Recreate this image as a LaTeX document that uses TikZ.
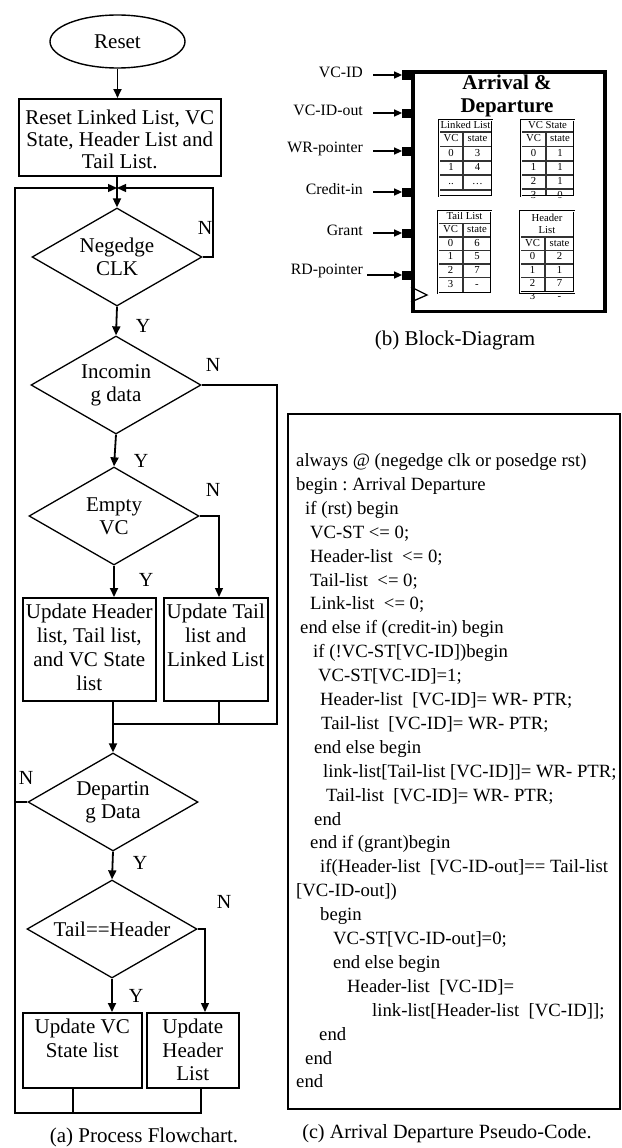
\documentclass[tikz,border=0pt]{standalone}
\usepackage{fontspec}
\setmainfont{Liberation Serif}
\usetikzlibrary{shapes.geometric,arrows.meta,calc}

% text block of a process box: width, height, first-baseline offset, lines
\newcommand{\boxlines}[4]{\parbox[c][#2][t]{#1}{\centering\rule{0pt}{#3}#4}}

\begin{document}
\begin{tikzpicture}[x=1pt,y=-1pt,
  proc/.style={draw, line width=1.5pt, inner sep=0pt, anchor=north west},
  decision/.style={diamond, draw, line width=1.3pt, minimum width=170pt,
    minimum height=98pt, inner sep=0pt, shape aspect=1.7, align=center,
    font=\fontsize{21}{23}\selectfont},
  arr/.style={line width=1.8pt, -{Triangle[length=9pt,width=8pt]}},
  narr/.style={line width=1.3pt, -{Triangle[length=9pt,width=8pt]}},
  wire/.style={line width=1.4pt},
  yn/.style={font=\fontsize{20}{20}\selectfont, inner sep=0pt},
  captxt/.style={font=\fontsize{21}{21}\selectfont, inner sep=0pt},
  porttxt/.style={font=\fontsize{15.8}{16}\selectfont, inner sep=0pt, anchor=east},
  pinsq/.style={fill=black, minimum width=8.5pt, minimum height=9pt, inner sep=0pt, anchor=east},
  inarr/.style={line width=1.6pt, -{Triangle[length=8pt,width=7pt]}},
  tfont/.style={font=\fontsize{10.7}{12}\selectfont, inner sep=0pt},
  tt/.style={tfont, text height=7.2pt, text depth=2.3pt},
  tframe/.style={draw, double, line width=0.6pt, double distance=0.9pt},
  tline/.style={line width=1.1pt, black!80},
]
\useasboundingbox (0,0) rectangle (621,1148);

% ---------------- (a) flowchart ----------------
\node[draw, ellipse, line width=1.4pt, minimum width=135pt, minimum height=53pt,
  inner sep=0pt, font=\fontsize{21}{21}\selectfont] (reset) at (117.5,41.5) {Reset};

\node[proc] (b1) at (18,98) {\fontsize{21}{22}\selectfont
  \boxlines{202pt}{77pt}{26pt}{Reset Linked List, VC\\State, Header List and\\Tail List.}};

\node[decision] (d1) at (117,257) {Negedge\\CLK};
\node[decision] (d2) at (116,385) {Incomin\\g data};
\node[decision] (d3) at (114,516) {Empty\\VC};

\node[proc] (b2) at (22,597) {\fontsize{21}{24.2}\selectfont
  \boxlines{133pt}{103pt}{20.5pt}{Update Header\\list, Tail list,\\and VC State\\list}};
\node[proc] (b3) at (163,597) {\fontsize{21}{24.2}\selectfont
  \boxlines{104pt}{103pt}{20.5pt}{Update Tail\\list and\\Linked List}};

\node[decision] (d4) at (113,802) {Departin\\g Data};
\node[decision] (d5) at (112,929) {Tail==Header};

\node[proc] (b4) at (22,1012) {\fontsize{21}{23.5}\selectfont
  \boxlines{119pt}{75pt}{21pt}{Update VC\\State list}};
\node[proc] (b5) at (146,1012) {\fontsize{21}{23.5}\selectfont
  \boxlines{92pt}{75pt}{21pt}{Update\\Header\\List}};

% junctions of the loop lines
\coordinate (j1) at (117,188);
\coordinate (rt) at (213,188);
\coordinate (lt) at (15,188);
\coordinate (lb) at (15,1113);
\coordinate (j2) at (113,724);
\coordinate (rr) at (277,724);
\coordinate (k3) at (219,724);
\coordinate (k4) at (73,1113);
\coordinate (k5) at (201,1113);
\coordinate (n5) at (205,1012);

\draw[arr] (reset.south) -- (reset.south |- b1.north);
\draw[arr] (b1.south -| j1) -- (d1.north);
\draw[narr] (d1.east) -| (rt) -- (j1);
\draw[arr] (d1.south) -- (d2.north);
\draw[wire] (d2.east) -| (rr) -- (j2);
\draw[arr] (d2.south) -- (d3.north);
\draw[arr] (d3.south) -- (d3.south |- b2.north);
\draw[narr] (d3.east) -| (k3 |- b3.north);
\draw[arr] (j2 |- b2.south) -- (d4.north);
\draw[wire] (k3 |- b3.south) -- (k3);
\draw[wire] (d4.west) -- (d4.west -| lt);
\draw[arr] (d4.south) -- (d5.north);
\draw[arr] (d5.south) -- (d5.south |- b4.north);
\draw[narr] (d5.east) -| (n5);
\draw[wire] (k4 |- b4.south) -- (k4);
\draw[wire, -{Triangle[length=9pt,width=8pt]}] (k5 |- b5.south) -- (k5) -- (lb) -- (lt) -- (j1);

\node[yn] (n1) at (205,228) {N};
\node[yn] (y1) at (143,326) {Y};
\node[yn] (n2) at (213,365) {N};
\node[yn] (y2) at (141,461) {Y};
\node[yn] (n3) at (213,490) {N};
\node[yn] (y3) at (146,580) {Y};
\node[yn] (n4) at (26,778) {N};
\node[yn] (y4) at (140,863) {Y};
\node[yn] (n6) at (224,902) {N};
\node[yn] (y5) at (136,996) {Y};

\node[captxt] (capa) at (144,1137) {(a) Process Flowchart.};

% ---------------- (b) block diagram ----------------
\node[draw, line width=3.5pt, minimum width=192pt, minimum height=239.5pt,
  inner sep=0pt, anchor=north west] (blk) at (411,70) {};
\node[font=\bfseries\fontsize{21}{23.5}\selectfont, align=center, inner sep=0pt]
  (ttl) at (507,96) {Arrival \&\\Departure};

\node[porttxt] (l1) at (363,72) {VC-ID};
\node[porttxt] (l2) at (363,110) {VC-ID-out};
\node[porttxt] (l3) at (363,149) {WR-pointer};
\node[porttxt] (l4) at (363,189) {Credit-in};
\node[porttxt] (l5) at (363,230) {Grant};
\node[porttxt] (l6) at (363,271) {RD-pointer};

\node[pinsq] (p1) at (411,75) {};
\node[pinsq] (p2) at (411,113) {};
\node[pinsq] (p3) at (411,151) {};
\node[pinsq] (p4) at (411,192) {};
\node[pinsq] (p5) at (411,233) {};
\node[pinsq] (p6) at (411,275) {};

\coordinate (s1) at (373,75);
\coordinate (s2) at (373,113);
\coordinate (s3) at (373,151);
\coordinate (s4) at (373,192);
\coordinate (s5) at (373,233);
\coordinate (s6) at (367,275);
\foreach \i in {1,...,6} {\draw[inarr] (s\i) -- (p\i.west);}

% clock input
\draw[line width=1.3pt] (411,287) -- (427,295) -- (411,302);

% Linked List table
\node[tt] (llt) at (465.5,126) {Linked List};
\node[tt] (llh1) at (451,139.5) {VC};
\node[tt] (llh2) at (477.5,139.5) {state};
\node[tt] (lla1) at (451,153.75) {0};
\node[tt] (llb1) at (477.5,153.75) {3};
\node[tt] (lla2) at (451,168) {1};
\node[tt] (llb2) at (477.5,168) {4};
\node[tt] (lla3) at (451,182.5) {..};
\node[tt] (llb3) at (477.5,182.5) {\dots};
\foreach \y in {132,146.5,161,175,190} {\draw[tline] (439,\y) -- (492,\y);}
\draw[tline] (463,132) -- (463,190);
\draw[tframe] (439,120) rectangle (492,196);

% VC State table
\node[tt] (vst) at (547.5,126) {VC State};
\node[tt] (vsh1) at (533.5,139.5) {VC};
\node[tt] (vsh2) at (560,139.5) {state};
\node[tt] (vsa1) at (533.5,153.75) {0};
\node[tt] (vsb1) at (560,153.75) {1};
\node[tt] (vsa2) at (533.5,168) {1};
\node[tt] (vsb2) at (560,168) {1};
\node[tt] (vsa3) at (533.5,182) {2};
\node[tt] (vsb3) at (560,182) {1};
\node[tt] (vsa4) at (533.5,196) {3};
\node[tt] (vsb4) at (560,196) {0};
\foreach \y in {132,146.5,161,175,189} {\draw[tline] (521,\y) -- (574,\y);}
\draw[tline] (546,132) -- (546,196);
\draw[tframe] (521,120) rectangle (574,196);

% Tail List table
\node[tt] (tlt) at (464.5,217.25) {Tail List};
\node[tt] (tlh1) at (450.5,230.25) {VC};
\node[tt] (tlh2) at (477,230.25) {state};
\node[tt] (tla1) at (450.5,243.75) {0};
\node[tt] (tlb1) at (477,243.75) {6};
\node[tt] (tla2) at (450.5,257.25) {1};
\node[tt] (tlb2) at (477,257.25) {5};
\node[tt] (tla3) at (450.5,270.75) {2};
\node[tt] (tlb3) at (477,270.75) {7};
\node[tt] (tla4) at (450.5,285.25) {3};
\node[tt] (tlb4) at (477,285.25) {-};
\foreach \y in {223.5,237,250.5,264,277.5} {\draw[tline] (438,\y) -- (491,\y);}
\draw[tline] (463,223.5) -- (463,293);
\draw[tframe] (438,211) rectangle (491,293);

% Header List table
\node[tfont, align=center] (hlt) at (547,224) {Header\\List};
\node[tt] (hlh1) at (532.5,243.75) {VC};
\node[tt] (hlh2) at (559.5,243.75) {state};
\node[tt] (hla1) at (532.5,257.25) {0};
\node[tt] (hlb1) at (559.5,257.25) {2};
\node[tt] (hla2) at (532.5,270.75) {1};
\node[tt] (hlb2) at (559.5,270.75) {1};
\node[tt] (hla3) at (532.5,284.5) {2};
\node[tt] (hlb3) at (559.5,284.5) {7};
\node[tt] (hla4) at (532.5,297.5) {3};
\node[tt] (hlb4) at (559.5,297.5) {-};
\foreach \y in {237,250.5,264,277.5} {\draw[tline] (520,\y) -- (574,\y);}
\draw[tline] (545,237) -- (545,292.5);
\draw[tframe] (520,211) rectangle (574,292.5);

\node[captxt] (capb) at (455,340) {(b) Block-Diagram};

% ---------------- (c) pseudo-code ----------------
\node[draw, line width=1.7pt, minimum width=332pt, minimum height=695pt,
  inner sep=0pt, anchor=north west] (codebox) at (287,413) {};
\node[anchor=base west, inner sep=0pt, font=\fontsize{18.7}{23.9}\selectfont]
  (code) at (296,466.5) {\parbox[t]{322pt}{\raggedright\frenchspacing
always @ (negedge clk or posedge rst)\\
begin : Arrival Departure\\
\hspace*{9pt}if (rst) begin\\
\hspace*{14pt}VC-ST <= 0;\\
\hspace*{14pt}Header-list\ \ <= 0;\\
\hspace*{14pt}Tail-list\ \ <= 0;\\
\hspace*{14pt}Link-list\ \ <= 0;\\
\hspace*{4pt}end else if (credit-in) begin\\
\hspace*{17pt}if (!VC-ST[VC-ID])begin\\
\hspace*{22pt}VC-ST[VC-ID]=1;\\
\hspace*{24pt}Header-list\ \ [VC-ID]= WR- PTR;\\
\hspace*{25pt}Tail-list\ \ [VC-ID]= WR- PTR;\\
\hspace*{18pt}end else begin\\
\hspace*{27pt}link-list[Tail-list [VC-ID]]= WR- PTR;\\
\hspace*{30pt}Tail-list\ \ [VC-ID]= WR- PTR;\\
\hspace*{18pt}end\\
\hspace*{14pt}end if (grant)begin\\
\hspace*{24pt}if(Header-list\ \ [VC-ID-out]== Tail-list\\
{}[VC-ID-out])\\
\hspace*{24pt}begin\\
\hspace*{37pt}VC-ST[VC-ID-out]=0;\\
\hspace*{37pt}end else begin\\
\hspace*{51pt}Header-list\ \ [VC-ID]=\\
\hspace*{76pt}link-list[Header-list\ \ [VC-ID]];\\
\hspace*{23pt}end\\
\hspace*{9pt}end\\
end}};

\node[font=\fontsize{20.2}{21}\selectfont, inner sep=0pt] (capc) at (447,1134) {(c) Arrival Departure Pseudo-Code.};
\end{tikzpicture}
\end{document}
